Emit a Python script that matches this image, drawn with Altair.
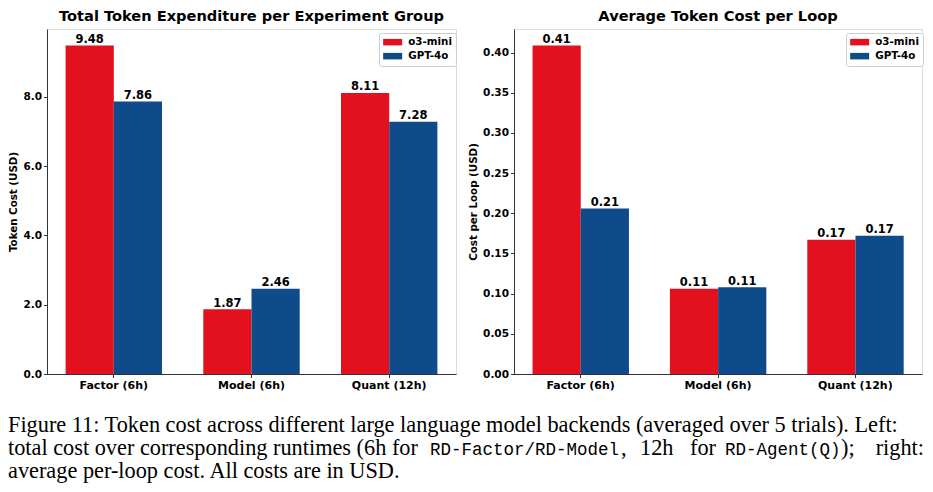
import altair as alt
import pandas as pd

groups = ["Factor (6h)", "Model (6h)", "Quant (12h)"]
models = ["o3-mini", "GPT-4o"]
colors = ["#E2111D", "#0F4A8B"]

total_o3 = [9.48, 1.87, 8.11]
total_gpt = [7.86, 2.46, 7.28]
loop_o3 = [0.409, 0.106, 0.167]
loop_gpt = [0.206, 0.108, 0.172]

left_ticks = [0, 2, 4, 6, 8]
right_ticks = [0.0, 0.05, 0.10, 0.15, 0.20, 0.25, 0.30, 0.35, 0.40]

left_title = "Total Token Expenditure per Experiment Group"
right_title = "Average Token Cost per Loop"
left_ytitle = "Token Cost (USD)"
right_ytitle = "Cost per Loop (USD)"

caption_line1 = "Figure 11: Token cost across different large language model backends (averaged over 5 trials). Left:"
caption_line2_parts = ["total cost over corresponding runtimes (6h for ", "RD-Factor/RD-Model", ",",
                       "12h", "for", "RD-Agent(Q)", ");", "right:"]
caption_line2_mono = [False, True, False, False, False, True, False, False]
caption_line3 = "average per-loop cost. All costs are in USD."


def make_df(a, b):
    rows = []
    for g, va, vb in zip(groups, a, b):
        rows.append({"group": g, "model": models[0], "value": va})
        rows.append({"group": g, "model": models[1], "value": vb})
    return pd.DataFrame(rows)


FONT = "DejaVu Sans"
FRAME = "#333333"


def panel(df, title, ytitle, ymax, ticks, fmt, width):
    base = alt.Chart(df).encode(
        x=alt.X("group:N", sort=groups,
                scale=alt.Scale(paddingInner=0.3, paddingOuter=0.135),
                axis=alt.Axis(title=None, labelAngle=0, labelFont=FONT, labelFontWeight="bold",
                              labelFontSize=11, labelColor="black", tickSize=3.5, tickColor=FRAME,
                              domainColor=FRAME, labelPadding=2, grid=False)),
        xOffset=alt.XOffset("model:N", sort=models,
                            scale=alt.Scale(domain=models, paddingInner=0, paddingOuter=0)),
        y=alt.Y("value:Q", scale=alt.Scale(domain=[0, ymax], nice=False, zero=True),
                axis=alt.Axis(values=ticks, format=fmt, title=ytitle, grid=False,
                              labelFont=FONT, labelFontWeight="bold", labelFontSize=10.5,
                              labelColor="black", tickSize=3.5, tickColor=FRAME, domainColor=FRAME,
                              labelPadding=2, titleFont=FONT, titleFontWeight="bold",
                              titleFontSize=10.3, titleColor="black", titlePadding=4)),
    )
    bars = base.mark_bar().encode(
        color=alt.Color("model:N", sort=models,
                        scale=alt.Scale(domain=models, range=colors),
                        legend=alt.Legend(title=None, orient="none", legendX=332, legendY=4,
                                          direction="vertical",
                                          symbolType="M-1,-0.65L2.8,-0.65L2.8,0.65L-1,0.65Z",
                                          symbolSize=100, symbolStrokeWidth=0,
                                          labelFont=FONT, labelFontWeight="bold", labelFontSize=10.3,
                                          labelColor="black", labelOffset=15, rowPadding=3,
                                          padding=4, fillColor="white", strokeColor="#cccccc",
                                          cornerRadius=2))
    )
    labels = base.mark_text(baseline="bottom", dy=-0.5, font=FONT, fontWeight="bold",
                            fontSize=11.5, color="black").encode(
        text=alt.Text("value:Q", format=".2f"))
    return alt.layer(bars, labels).properties(
        width=width, height=345,
        title=alt.TitleParams(title, font=FONT, fontWeight="bold", fontSize=14.6,
                              color="black", offset=5, anchor="middle"))


left = panel(make_df(total_o3, total_gpt), left_title, left_ytitle, 9.48 * 1.05, left_ticks, ".1f", 409)
right = panel(make_df(loop_o3, loop_gpt), right_title, right_ytitle, 0.409 * 1.05, right_ticks, ".2f", 408)

top = alt.hconcat(left, right, spacing=11).resolve_scale(
    x="independent", y="independent").resolve_legend(color="independent")

# caption
SERIF = "Liberation Serif"
MONO = "Liberation Mono"
SERIF_SIZE = 22.3
MONO_SIZE = 17.5
cap_df = pd.DataFrame({"k": [0]})
cap_layers = []
cap_layers.append(alt.Chart(cap_df).mark_text(
    text=caption_line1, font=SERIF, fontSize=SERIF_SIZE, align="left", baseline="alphabetic", color="black"
).encode(x=alt.value(-39), y=alt.value(41)))
line2_x = [-39, 383, 574, 593, 643, 678, 794, 877]
line2_align = ["left", "left", "left", "left", "left", "left", "left", "right"]
for txt, mono, xx, al in zip(caption_line2_parts, caption_line2_mono, line2_x, line2_align):
    cap_layers.append(alt.Chart(cap_df).mark_text(
        text=txt, font=MONO if mono else SERIF, fontSize=MONO_SIZE if mono else SERIF_SIZE,
        align=al, baseline="alphabetic", color="black"
    ).encode(x=alt.value(xx), y=alt.value(64)))
cap_layers.append(alt.Chart(cap_df).mark_text(
    text=caption_line3, font=SERIF, fontSize=SERIF_SIZE, align="left", baseline="alphabetic", color="black"
).encode(x=alt.value(-39), y=alt.value(87)))
caption = alt.layer(*cap_layers).properties(
    width=840, height=80, view=alt.ViewBackground(strokeOpacity=0))

chart = alt.vconcat(top, caption, spacing=0).properties(padding=0).configure_view(
    stroke=FRAME, strokeWidth=1).configure(background="white")

chart.save("out.html", embed_options={"renderer": "svg", "actions": False})
